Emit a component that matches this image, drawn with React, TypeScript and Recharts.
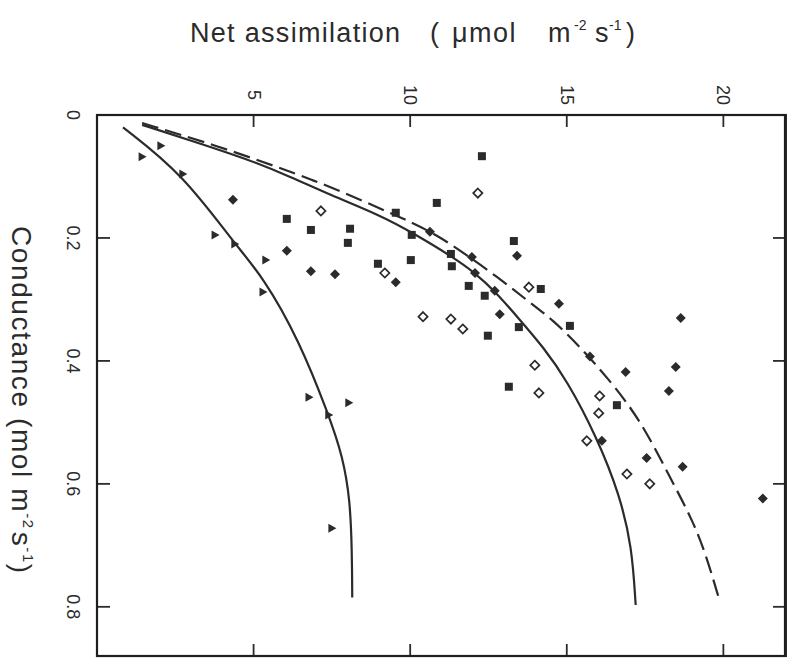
import React from 'react';
import { ScatterChart, Scatter, XAxis, YAxis, ReferenceArea } from 'recharts';

// ---------- data (a = net assimilation, g = conductance) ----------
const assimTicks = [5, 10, 15, 20];
const assimTickLabels = ['5', '10', '15', '20'];
const condTicks = [0, 0.2, 0.4, 0.6, 0.8];
const condTickLabels = ['0', '0.2', '0.4', '0.6', '0.8'];

const triangles = [
  { a: 1.44, g: 0.068 }, { a: 2.04, g: 0.05 }, { a: 2.74, g: 0.096 },
  { a: 3.77, g: 0.195 }, { a: 4.4, g: 0.21 }, { a: 5.39, g: 0.236 },
  { a: 5.3, g: 0.288 }, { a: 6.77, g: 0.459 }, { a: 8.04, g: 0.468 },
  { a: 7.4, g: 0.488 }, { a: 7.5, g: 0.672 },
];

const filledDiamonds = [
  { a: 4.34, g: 0.138 }, { a: 6.06, g: 0.221 }, { a: 6.83, g: 0.254 },
  { a: 7.6, g: 0.259 }, { a: 9.54, g: 0.272 }, { a: 10.63, g: 0.19 },
  { a: 11.97, g: 0.231 }, { a: 12.07, g: 0.257 }, { a: 12.7, g: 0.286 },
  { a: 13.41, g: 0.229 }, { a: 12.86, g: 0.324 }, { a: 14.75, g: 0.307 },
  { a: 15.74, g: 0.393 }, { a: 16.88, g: 0.418 }, { a: 16.12, g: 0.53 },
  { a: 18.64, g: 0.33 }, { a: 18.48, g: 0.41 }, { a: 18.26, g: 0.449 },
  { a: 17.55, g: 0.558 }, { a: 18.7, g: 0.572 }, { a: 21.26, g: 0.624 },
];

const filledSquares = [
  { a: 6.06, g: 0.169 }, { a: 6.83, g: 0.187 }, { a: 8.08, g: 0.185 },
  { a: 8.01, g: 0.208 }, { a: 8.97, g: 0.242 }, { a: 10.02, g: 0.236 },
  { a: 9.54, g: 0.159 }, { a: 10.05, g: 0.195 }, { a: 10.85, g: 0.143 },
  { a: 11.3, g: 0.226 }, { a: 11.33, g: 0.246 }, { a: 11.87, g: 0.278 },
  { a: 12.38, g: 0.294 }, { a: 13.31, g: 0.205 }, { a: 14.17, g: 0.283 },
  { a: 13.47, g: 0.345 }, { a: 12.48, g: 0.359 }, { a: 15.1, g: 0.343 },
  { a: 13.15, g: 0.442 }, { a: 16.6, g: 0.472 }, { a: 12.29, g: 0.067 },
];

const openDiamonds = [
  { a: 7.15, g: 0.156 }, { a: 9.19, g: 0.257 }, { a: 10.41, g: 0.328 },
  { a: 11.3, g: 0.332 }, { a: 11.68, g: 0.348 }, { a: 12.16, g: 0.127 },
  { a: 13.79, g: 0.28 }, { a: 13.98, g: 0.407 }, { a: 14.11, g: 0.452 },
  { a: 16.05, g: 0.457 }, { a: 16.02, g: 0.485 }, { a: 15.64, g: 0.53 },
  { a: 16.92, g: 0.584 }, { a: 17.65, g: 0.6 },
];

const lowCurve = [
  { a: 0.83, g: 0.02 }, { a: 2.74, g: 0.096 }, { a: 4.4, g: 0.21 },
  { a: 5.3, g: 0.263 }, { a: 6.45, g: 0.366 }, { a: 7.4, g: 0.488 },
  { a: 7.85, g: 0.556 }, { a: 8.08, g: 0.626 }, { a: 8.14, g: 0.707 },
  { a: 8.15, g: 0.785 },
];

const midCurve = [
  { a: 1.44, g: 0.016 }, { a: 2.97, g: 0.041 }, { a: 4.88, g: 0.073 },
  { a: 6.2, g: 0.101 }, { a: 7.44, g: 0.13 }, { a: 9.03, g: 0.163 },
  { a: 10.09, g: 0.192 }, { a: 11.36, g: 0.231 }, { a: 12.07, g: 0.257 },
  { a: 12.7, g: 0.286 }, { a: 13.5, g: 0.333 }, { a: 14.24, g: 0.377 },
  { a: 15.0, g: 0.431 }, { a: 15.96, g: 0.524 }, { a: 16.69, g: 0.618 },
  { a: 17.08, g: 0.702 }, { a: 17.2, g: 0.797 },
];

const dashedCurve = [
  { a: 1.44, g: 0.013 }, { a: 3.77, g: 0.049 }, { a: 5.84, g: 0.086 },
  { a: 6.89, g: 0.106 }, { a: 7.98, g: 0.128 }, { a: 9.03, g: 0.152 },
  { a: 9.89, g: 0.171 }, { a: 10.85, g: 0.195 }, { a: 11.81, g: 0.228 },
  { a: 12.77, g: 0.263 }, { a: 13.72, g: 0.301 }, { a: 14.55, g: 0.333 },
  { a: 15.42, g: 0.377 }, { a: 16.28, g: 0.426 }, { a: 17.33, g: 0.494 },
  { a: 18.29, g: 0.589 }, { a: 19.02, g: 0.659 }, { a: 19.47, g: 0.719 },
  { a: 19.89, g: 0.792 },
];

// ---------- layout / style ----------
const W = 788;
const H = 660;
const PLOT_LEFT = 97;
const PLOT_TOP = 115;
const PLOT_RIGHT = 786;
const PLOT_BOTTOM = 656;
const INK = '#2b2b2b';
const FONT = '"Liberation Sans", Arial, sans-serif';

const XTick = (props: any) => {
  const { x, payload, index } = props;
  const label = assimTickLabels[index] ?? String(payload.value);
  const ty = 95;
  return (
    <g>
      <line x1={x} y1={PLOT_TOP} x2={x} y2={PLOT_TOP + 12} stroke={INK} strokeWidth={1.8} />
      <line x1={x} y1={PLOT_BOTTOM} x2={x} y2={PLOT_BOTTOM - 12} stroke={INK} strokeWidth={1.8} />
      <text
        x={x}
        y={ty}
        transform={`rotate(90 ${x} ${ty})`}
        textAnchor="middle"
        dominantBaseline="central"
        fontSize={18}
        fontFamily={FONT}
        fill={INK}
      >
        {label}
      </text>
    </g>
  );
};

const YTick = (props: any) => {
  const { y, payload, index } = props;
  const label = condTickLabels[index] ?? String(payload.value);
  const tx = 73;
  const showLines = payload.value !== 0;
  return (
    <g>
      {showLines && (
        <>
          <line x1={PLOT_LEFT} y1={y} x2={PLOT_LEFT + 13} y2={y} stroke={INK} strokeWidth={1.8} />
          <line x1={PLOT_RIGHT} y1={y} x2={PLOT_RIGHT - 13} y2={y} stroke={INK} strokeWidth={1.8} />
        </>
      )}
      <text
        x={tx}
        y={y}
        transform={`rotate(90 ${tx} ${y})`}
        textAnchor="middle"
        dominantBaseline="central"
        fontSize={18}
        fontFamily={FONT}
        fill={INK}
      >
        {label}
      </text>
    </g>
  );
};

const NoMark = () => <g />;

const TriangleMark = (p: any) => {
  const { cx, cy } = p;
  return <path d={`M${cx - 3.5},${cy - 4.5} L${cx + 4.5},${cy} L${cx - 3.5},${cy + 4.5} Z`} fill={INK} />;
};

const DiamondMark = (p: any) => {
  const { cx, cy } = p;
  const r = 5;
  return <path d={`M${cx},${cy - r} L${cx + r},${cy} L${cx},${cy + r} L${cx - r},${cy} Z`} fill={INK} />;
};

const SquareMark = (p: any) => {
  const { cx, cy } = p;
  const s = 8;
  return <rect x={cx - s / 2} y={cy - s / 2} width={s} height={s} fill={INK} />;
};

const OpenDiamondMark = (p: any) => {
  const { cx, cy } = p;
  const r = 4.6;
  return (
    <path
      d={`M${cx},${cy - r} L${cx + r},${cy} L${cx},${cy + r} L${cx - r},${cy} Z`}
      fill="#ffffff"
      stroke={INK}
      strokeWidth={1.7}
    />
  );
};

export default function App() {
  return (
    <div style={{ position: 'absolute', left: 0, top: 0, width: W, height: H, background: '#fff' }}>
      <ScatterChart
        width={W}
        height={H}
        margin={{ top: 0, right: W - PLOT_RIGHT, bottom: H - PLOT_BOTTOM, left: 0 }}
      >
        <XAxis
          type="number"
          dataKey="a"
          orientation="top"
          domain={[0, 22]}
          ticks={assimTicks}
          height={PLOT_TOP}
          tickSize={0}
          tickMargin={0}
          tickLine={false}
          axisLine={{ stroke: INK, strokeWidth: 2 }}
          tick={<XTick />}
          allowDataOverflow
        />
        <YAxis
          type="number"
          dataKey="g"
          domain={[0, 0.88]}
          reversed
          ticks={condTicks}
          width={PLOT_LEFT}
          tickSize={0}
          tickMargin={0}
          tickLine={false}
          axisLine={{ stroke: INK, strokeWidth: 2 }}
          tick={<YTick />}
          allowDataOverflow
        />
        <ReferenceArea
          x1={0}
          x2={22}
          y1={0}
          y2={0.88}
          fill="none"
          fillOpacity={0}
          stroke={INK}
          strokeWidth={2}
          strokeOpacity={1}
          ifOverflow="visible"
        />
        <Scatter
          data={lowCurve}
          shape={<NoMark />}
          line={{ stroke: INK, strokeWidth: 2.2 }}
          lineJointType="basis"
          isAnimationActive={false}
        />
        <Scatter
          data={midCurve}
          shape={<NoMark />}
          line={{ stroke: INK, strokeWidth: 2.2 }}
          lineJointType="basis"
          isAnimationActive={false}
        />
        <Scatter
          data={dashedCurve}
          shape={<NoMark />}
          line={{ stroke: INK, strokeWidth: 2.2, strokeDasharray: '17 7' }}
          lineJointType="basis"
          isAnimationActive={false}
        />
        <Scatter data={triangles} shape={<TriangleMark />} isAnimationActive={false} />
        <Scatter data={filledDiamonds} shape={<DiamondMark />} isAnimationActive={false} />
        <Scatter data={filledSquares} shape={<SquareMark />} isAnimationActive={false} />
        <Scatter data={openDiamonds} shape={<OpenDiamondMark />} isAnimationActive={false} />
      </ScatterChart>
      <svg
        width={W}
        height={H}
        style={{ position: 'absolute', left: 0, top: 0, pointerEvents: 'none' }}
      >
        <rect
          x={PLOT_LEFT}
          y={PLOT_TOP}
          width={PLOT_RIGHT - PLOT_LEFT - 1}
          height={PLOT_BOTTOM - PLOT_TOP}
          fill="none"
          stroke="#1e1e1e"
          strokeWidth={2.2}
        />
        <text y={42} fontSize={27} fontFamily={FONT} fill={INK}>
          <tspan x={190} letterSpacing={1.3}>Net assimilation</tspan>
          <tspan x={430}>(</tspan>
          <tspan x={452} letterSpacing={1.5}>μmol</tspan>
          <tspan x={548}>m</tspan>
          <tspan x={574} dy={-12} fontSize={14}>-2</tspan>
          <tspan x={595} dy={12}>s</tspan>
          <tspan x={609} dy={-12} fontSize={14}>-1</tspan>
          <tspan x={626} dy={12}>)</tspan>
        </text>
        <text
          x={12}
          y={226}
          transform="rotate(90 12 226)"
          fontSize={28}
          letterSpacing={1.6}
          fontFamily={FONT}
          fill={INK}
        >
          Conductance (mol m
          <tspan dy={-11} fontSize={15}>-2</tspan>
          <tspan dy={11} dx={2}>s</tspan>
          <tspan dy={-11} fontSize={15}>-1</tspan>
          <tspan dy={11}>)</tspan>
        </text>
      </svg>
    </div>
  );
}
